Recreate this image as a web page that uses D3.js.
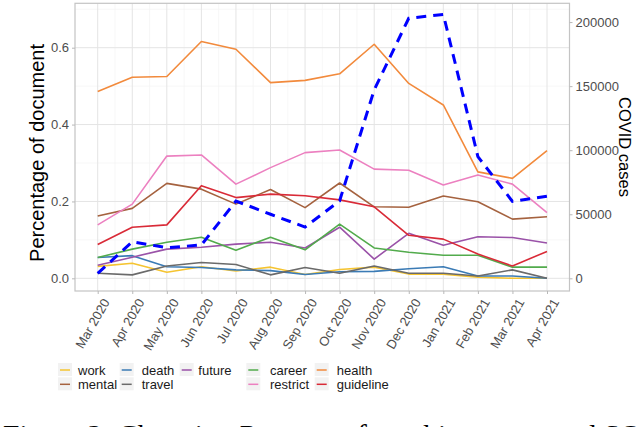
<!DOCTYPE html>
<html>
<head>
<meta charset="utf-8">
<script src="https://cdn.jsdelivr.net/npm/d3@7"></script>
<style>
  body { margin: 0; background: #fff; }
  svg { display: block; }
  .sans { font-family: "Liberation Sans", Arial, Helvetica, sans-serif; }
  .serif { font-family: "Liberation Serif", "Times New Roman", Times, serif; }
</style>
</head>
<body>
<div class="chart"></div>
<script>
var months = ["Mar 2020", "Apr 2020", "May 2020", "Jun 2020", "Jul 2020", "Aug 2020", "Sep 2020",
  "Oct 2020", "Nov 2020", "Dec 2020", "Jan 2021", "Feb 2021", "Mar 2021", "Apr 2021"];

var work      = [0.031, 0.039, 0.016, 0.030, 0.019, 0.029, 0.010, 0.023, 0.029, 0.011, 0.011, 0.003, 0.000, 0.000];
var mental    = [0.162, 0.182, 0.247, 0.232, 0.193, 0.231, 0.184, 0.248, 0.186, 0.185, 0.214, 0.199, 0.154, 0.160];
var death     = [0.054, 0.059, 0.030, 0.028, 0.022, 0.020, 0.010, 0.017, 0.018, 0.025, 0.030, 0.006, 0.006, 0.000];
var travel    = [0.013, 0.009, 0.032, 0.041, 0.036, 0.009, 0.028, 0.013, 0.032, 0.013, 0.013, 0.006, 0.022, 0.000];
var future    = [0.034, 0.055, 0.076, 0.081, 0.089, 0.094, 0.079, 0.133, 0.050, 0.117, 0.086, 0.108, 0.106, 0.092];
var career    = [0.054, 0.076, 0.094, 0.107, 0.073, 0.107, 0.074, 0.141, 0.079, 0.068, 0.060, 0.060, 0.029, 0.029];
var restrict  = [0.139, 0.193, 0.318, 0.321, 0.245, 0.288, 0.327, 0.334, 0.284, 0.281, 0.243, 0.269, 0.245, 0.171];
var health    = [0.486, 0.523, 0.525, 0.616, 0.596, 0.509, 0.515, 0.532, 0.609, 0.507, 0.451, 0.277, 0.260, 0.332];
var guideline = [0.088, 0.133, 0.139, 0.241, 0.210, 0.219, 0.215, 0.204, 0.186, 0.112, 0.102, 0.063, 0.032, 0.070];

var covidCases = [3900, 28500, 23900, 26000, 60300, 50000, 40000, 60500, 147000, 203000, 206000, 95000, 60000, 64000];

var leftTicks = [0, 0.2, 0.4, 0.6];
var leftMinor = [0.1, 0.3, 0.5, 0.7];
var rightTicks = [0, 50000, 100000, 150000, 200000];

var topics = [
  {name: "work", values: work, color: "#f5c431"},
  {name: "mental", values: mental, color: "#a5623f"},
  {name: "death", values: death, color: "#3b7bb5"},
  {name: "travel", values: travel, color: "#6a6a6a"},
  {name: "future", values: future, color: "#9a52a8"},
  {name: "career", values: career, color: "#52ab4c"},
  {name: "restrict", values: restrict, color: "#ec80c0"},
  {name: "health", values: health, color: "#f28a3c"},
  {name: "guideline", values: guideline, color: "#d92a37"}
];

// legend columns as in the figure
var legendCols = [["work", "mental"], ["death", "travel"], ["future"], ["career", "restrict"], ["health", "guideline"]];

var width = 640, height = 427;
var panel = {left: 75, right: 569.5, top: 3.3, bottom: 291};

var svg = d3.select(".chart").append("svg")
  .attr("width", width)
  .attr("height", height);

var x = d3.scalePoint()
  .domain(months)
  .range([97.7, 547]);

var y = d3.scaleLinear()
  .domain([-0.033, 0.7155])
  .range([panel.bottom, panel.top]);

// secondary axis: cases = share * 300000
var yCases = d3.scaleLinear()
  .domain([-0.033 * 300000, 0.7155 * 300000])
  .range([panel.bottom, panel.top]);

var step = x.step();

// grid
var grid = svg.append("g");
leftMinor.forEach(function(v) {
  grid.append("line")
    .attr("x1", panel.left).attr("x2", panel.right)
    .attr("y1", y(v)).attr("y2", y(v))
    .attr("stroke", "#f3f3f3").attr("stroke-width", 0.7);
});
months.slice(0, -1).forEach(function(m) {
  grid.append("line")
    .attr("x1", x(m) + step / 2).attr("x2", x(m) + step / 2)
    .attr("y1", panel.top).attr("y2", panel.bottom)
    .attr("stroke", "#f3f3f3").attr("stroke-width", 0.7);
});
leftTicks.forEach(function(v) {
  grid.append("line")
    .attr("x1", panel.left).attr("x2", panel.right)
    .attr("y1", y(v)).attr("y2", y(v))
    .attr("stroke", "#e4e4e4").attr("stroke-width", 1);
});
months.forEach(function(m) {
  grid.append("line")
    .attr("x1", x(m)).attr("x2", x(m))
    .attr("y1", panel.top).attr("y2", panel.bottom)
    .attr("stroke", "#e4e4e4").attr("stroke-width", 1);
});

// lines
var line = d3.line()
  .x(function(d, i) { return x(months[i]); })
  .y(function(d) { return y(d); });

topics.forEach(function(t) {
  svg.append("path")
    .datum(t.values)
    .attr("d", line)
    .attr("fill", "none")
    .attr("stroke", t.color)
    .attr("stroke-width", 1.6)
    .attr("stroke-linejoin", "round");
});

var caseLine = d3.line()
  .x(function(d, i) { return x(months[i]); })
  .y(function(d) { return yCases(d); });

svg.append("path")
  .datum(covidCases)
  .attr("d", caseLine)
  .attr("fill", "none")
  .attr("stroke", "#0000ff")
  .attr("stroke-width", 3)
  .attr("stroke-dasharray", "10,7");

// panel border
svg.append("rect")
  .attr("x", panel.left).attr("y", panel.top)
  .attr("width", panel.right - panel.left).attr("height", panel.bottom - panel.top)
  .attr("fill", "none").attr("stroke", "#c4c4c4").attr("stroke-width", 1.2);

// axes
function styleAxis(g) {
  g.attr("font-family", null).attr("font-size", null).attr("class", "sans");
  g.select(".domain").remove();
  g.selectAll(".tick line").attr("stroke", "#b8b8b8");
  g.selectAll(".tick text")
    .attr("fill", "#4d4d4d")
    .style("font-size", "13px");
}

svg.append("g")
  .attr("transform", "translate(" + panel.left + ",0)")
  .call(d3.axisLeft(y).tickValues(leftTicks).tickFormat(d3.format(".1f")).tickSize(3).tickPadding(3))
  .call(styleAxis);

svg.append("g")
  .attr("transform", "translate(" + panel.right + ",0)")
  .call(d3.axisRight(yCases).tickValues(rightTicks).tickFormat(d3.format("d")).tickSize(3).tickPadding(3))
  .call(styleAxis);

var xAxis = svg.append("g")
  .attr("transform", "translate(0," + panel.bottom + ")")
  .call(d3.axisBottom(x).tickSize(3))
  .call(styleAxis);

xAxis.selectAll(".tick text")
  .attr("text-anchor", "end")
  .attr("dy", null)
  .attr("y", 0)
  .attr("transform", "translate(12,11) rotate(-60)");

// axis titles
svg.append("text")
  .attr("class", "sans")
  .attr("transform", "translate(44,153) rotate(-90)")
  .attr("text-anchor", "middle")
  .style("font-size", "20px")
  .attr("fill", "#000")
  .text("Percentage of document");

svg.append("text")
  .attr("class", "sans")
  .attr("transform", "translate(619,147) rotate(90)")
  .attr("text-anchor", "middle")
  .style("font-size", "16.5px")
  .attr("fill", "#000")
  .text("COVID cases");

// legend
var colKeyX = [65, 126.7, 186.7, 253.3, 321.7];
var colTextX = [78, 141.7, 198.3, 270, 336.7];
var rowY = [370, 384.3];
var colorOf = {};
topics.forEach(function(t) { colorOf[t.name] = t.color; });

var legend = svg.append("g");
legendCols.forEach(function(col, ci) {
  col.forEach(function(name, ri) {
    legend.append("rect")
      .attr("x", colKeyX[ci] - 7).attr("y", rowY[ri] - 7)
      .attr("width", 14).attr("height", 13)
      .attr("fill", "#f2f2f2");
    legend.append("line")
      .attr("x1", colKeyX[ci] - 5).attr("x2", colKeyX[ci] + 5)
      .attr("y1", rowY[ri]).attr("y2", rowY[ri])
      .attr("stroke", colorOf[name]).attr("stroke-width", 1.5);
    legend.append("text")
      .attr("class", "sans")
      .attr("x", colTextX[ci]).attr("y", rowY[ri] + 4.5)
      .style("font-size", "13px")
      .attr("fill", "#1a1a1a")
      .text(name);
  });
});

// caption (cut off at the bottom of the crop, as in the source)
svg.append("text")
  .attr("class", "serif")
  .attr("x", 3).attr("y", 445)
  .style("font-size", "29.5px")
  .attr("fill", "#000")
  .text("Figure 2: Changing Patterns of machine annotated SOA");
</script>
</body>
</html>
